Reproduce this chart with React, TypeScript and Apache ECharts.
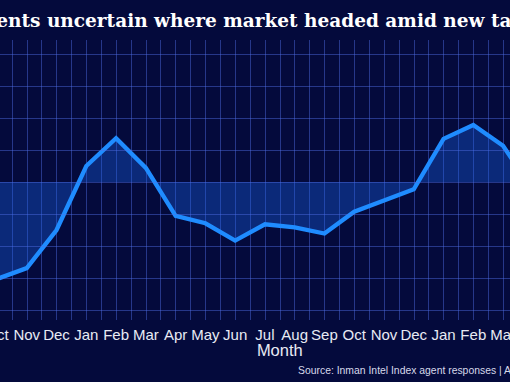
import React, { useEffect, useRef } from 'react';
import * as echarts from 'echarts';

const months = ['Oct', 'Nov', 'Dec', 'Jan', 'Feb', 'Mar', 'Apr', 'May', 'Jun', 'Jul', 'Aug', 'Sep', 'Oct', 'Nov', 'Dec', 'Jan', 'Feb', 'Mar', 'Apr', 'May'];
const sentiment = [19.7, 23.1, 35.0, 55.0, 63.7, 54.4, 39.4, 37.1, 31.7, 36.8, 35.8, 33.9, 40.7, 44.2, 47.7, 63.5, 67.8, 61.3, 47.5, 44.0];
const baseline = 50;
const gridValues = [10, 20, 30, 40, 50, 60, 70, 80, 90];
const titleText = 'Agents uncertain where market headed amid new tariffs';
const sourceText = 'Source: Inman Intel Index agent responses | April 2025';

const OFF = 40;
const W = 640;
const H = 382;
const BG = '#040a3c';
const GRID = 'rgba(80,110,230,0.45)';
const TEXT = '#e8eaf4';

export default function App() {
  const ref = useRef<HTMLDivElement>(null);
  useEffect(() => {
    if (!ref.current) return;
    const chart = echarts.init(ref.current, undefined, { renderer: 'svg' });
    const halfTicks = new Array(months.length * 2 - 1).fill('');
    chart.setOption({
      animation: false,
      backgroundColor: BG,
      grid: { left: 37, right: 37.4, top: 40, bottom: 62 },
      xAxis: [
        {
          type: 'category',
          data: months,
          boundaryGap: false,
          axisLine: { show: false },
          axisTick: { show: false },
          splitLine: { show: false },
          axisLabel: { color: TEXT, fontSize: 15, fontFamily: 'Liberation Sans', margin: 7, interval: 0 },
          name: 'Month',
          nameLocation: 'middle',
          nameGap: 21,
          nameMoveOverlap: false,
          nameTextStyle: { color: TEXT, fontSize: 16.5, fontFamily: 'Liberation Sans' },
        },
        {
          type: 'category',
          data: halfTicks,
          boundaryGap: false,
          position: 'bottom',
          axisLine: { show: false },
          axisTick: { show: false },
          axisLabel: { show: false },
          splitLine: { show: true, lineStyle: { color: GRID, width: 1 } },
        },
      ],
      yAxis: {
        type: 'value',
        min: 6.875,
        max: 94.375,
        axisLine: { show: false },
        axisTick: { show: false },
        axisLabel: { show: false },
        splitLine: { show: false },
      },
      series: [
        {
          type: 'line',
          data: [],
          z: 1,
          silent: true,
          markLine: {
            silent: true,
            symbol: 'none',
            label: { show: false },
            lineStyle: { color: GRID, type: 'solid', width: 1 },
            data: gridValues.map((v) => ({ yAxis: v })),
          },
        },
        {
          type: 'line',
          data: sentiment,
          z: 3,
          symbol: 'none',
          lineStyle: { color: '#1f8cff', width: 4.3, join: 'miter' },
          areaStyle: { origin: baseline, color: 'rgba(25,100,235,0.5)' },
        },
      ],
      graphic: [
        {
          type: 'text',
          x: 9,
          y: 20,
          style: { text: titleText, font: 'bold 18.5px "DejaVu Serif"', fill: '#ffffff', textVerticalAlign: 'middle' },
        },
        {
          type: 'text',
          x: 298 + OFF,
          y: 370,
          style: { text: sourceText, font: '10.4px "Liberation Sans"', fill: '#d6d9ea', textVerticalAlign: 'middle' },
        },
      ],
    });
    return () => chart.dispose();
  }, []);
  return (
    <div style={{ position: 'fixed', left: 0, top: 0, width: 510, height: H, overflow: 'hidden', background: BG }}>
      <div ref={ref} style={{ position: 'absolute', left: -OFF, top: 0, width: W, height: H }} />
    </div>
  );
}
